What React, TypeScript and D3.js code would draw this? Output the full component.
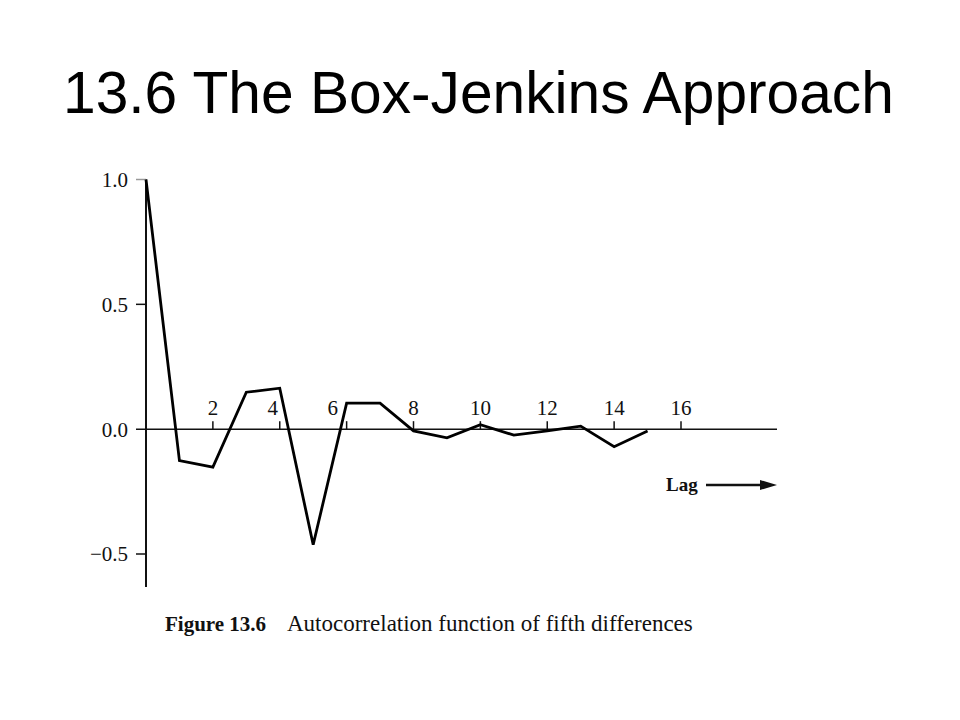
import React from "react";
import * as d3 from "d3";

const lags = [0, 1, 2, 3, 4, 5, 6, 7, 8, 9, 10, 11, 12, 13, 14, 15];
const acf = [1.0, -0.126, -0.152, 0.148, 0.164, -0.463, 0.104, 0.104, -0.007, -0.035, 0.018, -0.024, -0.007, 0.012, -0.07, -0.007];
const xTicks = [2, 4, 6, 8, 10, 12, 14, 16];
const yTicks = [1.0, 0.5, 0.0, -0.5];
const titleText = "13.6 The Box-Jenkins Approach";
const captionBold = "Figure 13.6";
const captionText = "Autocorrelation function of fifth differences";

export default function App() {
  const x = d3.scaleLinear().domain([0, 16]).range([146, 681]);
  const y = d3.scaleLinear().domain([-0.5, 1]).range([554, 179.5]);
  const line = d3
    .line<number>()
    .x((_, i) => x(lags[i]))
    .y((d) => y(d));
  const serif = "'Liberation Serif', 'Times New Roman', serif";
  const fmt = (v: number) => (v < 0 ? "\u2212" + Math.abs(v).toFixed(1) : v.toFixed(1));
  const labelShift = (t: number) => (t === 4 ? -7 : t === 6 ? -14 : 0);
  return (
    <svg
      width={960}
      height={720}
      style={{ position: "absolute", left: 0, top: 0, background: "#fff" }}
    >
      <text
        x={63}
        y={113}
        fontFamily="'Liberation Sans', Arial, sans-serif"
        fontSize={58.7}
        fill="#000"
      >
        {titleText}
      </text>
      {/* y axis */}
      <line x1={x(0)} x2={x(0)} y1={y(1)} y2={587} stroke="#111" strokeWidth={2} />
      {/* zero line */}
      <line x1={136} x2={777} y1={y(0)} y2={y(0)} stroke="#111" strokeWidth={1.5} />
      {yTicks.map((t) => (
        <g key={t}>
          <line
            x1={t === 0 ? x(0) : 136}
            x2={x(0)}
            y1={y(t)}
            y2={y(t)}
            stroke={t === 1 ? "#999" : "#111"}
            strokeWidth={1.5}
          />
          <text
            x={128}
            y={y(t)}
            dy="0.35em"
            textAnchor="end"
            fontFamily={serif}
            fontSize={21}
            fill="#111"
          >
            {fmt(t)}
          </text>
        </g>
      ))}
      {xTicks.map((t) => (
        <g key={t}>
          <line x1={x(t)} x2={x(t)} y1={y(0) - 8} y2={y(0)} stroke="#111" strokeWidth={1.5} />
          <text
            x={x(t) + labelShift(t)}
            y={y(0) - 14}
            textAnchor="middle"
            fontFamily={serif}
            fontSize={21}
            fill="#111"
          >
            {t}
          </text>
        </g>
      ))}
      <path d={line(acf) || ""} fill="none" stroke="#000" strokeWidth={2.8} strokeLinejoin="miter" />
      {/* Lag label and arrow */}
      <text x={666} y={491} fontFamily={serif} fontSize={19} fontWeight="bold" fill="#111">
        Lag
      </text>
      <line x1={706} x2={764} y1={485} y2={485} stroke="#111" strokeWidth={2.5} />
      <polygon points="760,480 777,485 760,490" fill="#111" />
      {/* caption */}
      <text x={165} y={631} fontFamily={serif} fill="#111">
        <tspan fontWeight="bold" fontSize={21}>{captionBold}</tspan>
        <tspan x={287} fontSize={23}>{captionText}</tspan>
      </text>
    </svg>
  );
}
